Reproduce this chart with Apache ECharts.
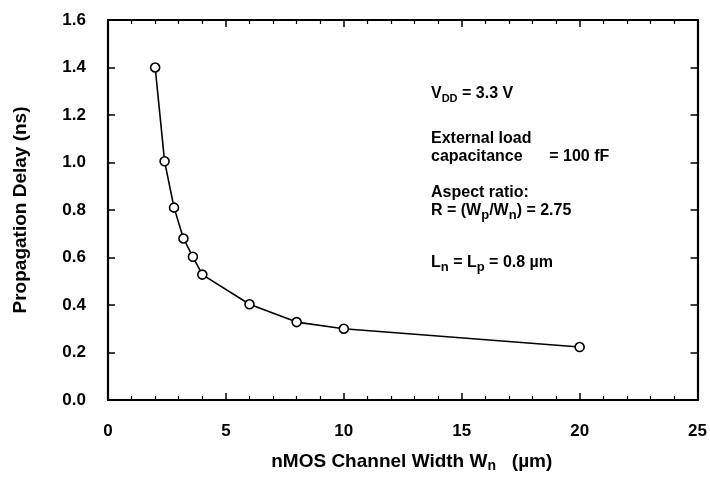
<!DOCTYPE html>
<html><head><meta charset="utf-8">
<script src="https://cdn.jsdelivr.net/npm/echarts@6/dist/echarts.min.js"></script>
<style>html,body{margin:0;padding:0;background:#fff}#c{width:710px;height:482px}</style>
</head><body><div id="c"></div>
<script>
const widths = [2.0, 2.4, 2.8, 3.2, 3.6, 4.0, 6.0, 8.0, 10.0, 20.0];
const delays = [1.40, 1.005, 0.81, 0.68, 0.603, 0.528, 0.403, 0.328, 0.30, 0.223];
const xTicks = [0, 5, 10, 15, 20, 25];
const yTicks = [0.0, 0.2, 0.4, 0.6, 0.8, 1.0, 1.2, 1.4, 1.6];

const FONT = '"Liberation Sans", Arial, sans-serif';
const chart = echarts.init(document.getElementById('c'), null, {renderer: 'canvas'});
const axisLine = {show: true, onZero: false, lineStyle: {color: '#000', width: 2.2}};
const tick = {show: true, inside: true, length: 7, lineStyle: {color: '#000', width: 1.5}};
const minor = {show: true, splitNumber: 5, length: 4, lineStyle: {color: '#000', width: 1.2}};
const txt = {fontFamily: FONT, fontWeight: 'bold', fontSize: 17, color: '#000'};
const A = {fontFamily: FONT, fontWeight: 'bold', fontSize: 16, fill: '#000', lineHeight: 18};
const S = {fontFamily: FONT, fontWeight: 'bold', fontSize: 13, fill: '#000', padding: [9, 0, 0, 0], lineHeight: 18};

chart.setOption({
  animation: false,
  backgroundColor: '#fff',
  grid: {left: 108, right: 10, top: 20, bottom: 82},
  xAxis: [{
    type: 'value', min: xTicks[0], max: xTicks[xTicks.length - 1], interval: 5,
    axisLine, axisTick: tick, minorTick: minor, splitLine: {show: false},
    axisLabel: Object.assign({margin: 23}, txt),
    name: '{a|nMOS Channel Width W}{s|n}{a|   (µm)}',
    nameLocation: 'middle', nameGap: 51,
    nameTextStyle: {padding: [0, 0, 0, 18], rich: {
      a: {fontFamily: FONT, fontWeight: 'bold', fontSize: 19, color: '#000'},
      s: {fontFamily: FONT, fontWeight: 'bold', fontSize: 14, color: '#000', verticalAlign: 'bottom', padding: [8, 0, 0, 0]}
    }}
  }, {
    type: 'value', position: 'top', min: 0, max: 25, interval: 5,
    axisLine, axisTick: tick, minorTick: minor, splitLine: {show: false},
    axisLabel: {show: false}
  }],
  yAxis: [{
    type: 'value', min: yTicks[0], max: yTicks[yTicks.length - 1], interval: 0.2,
    axisLine, axisTick: tick, splitLine: {show: false},
    axisLabel: Object.assign({margin: 22, formatter: v => v.toFixed(1)}, txt),
    name: 'Propagation Delay (ns)', nameLocation: 'middle', nameGap: 78, nameRotate: 90,
    nameTextStyle: {fontFamily: FONT, fontWeight: 'bold', fontSize: 19, color: '#000'}
  }, {
    type: 'value', position: 'right', min: 0, max: 1.6, interval: 0.2,
    axisLine, axisTick: tick, splitLine: {show: false}, axisLabel: {show: false}
  }],
  series: [{
    type: 'line',
    data: widths.map((w, i) => [w, delays[i]]),
    symbol: 'circle', symbolSize: 9, showSymbol: true,
    lineStyle: {color: '#000', width: 1.6},
    itemStyle: {color: '#fff', borderColor: '#000', borderWidth: 1.6},
    z: 3
  }],
  graphic: [
    {type: 'text', left: 431, top: 84, style: {
      text: '{a|V}{s|DD}{a| = 3.3 V}', rich: {a: A, s: Object.assign({}, S, {fontSize: 11})}}},
    {type: 'text', left: 431, top: 130, style: {
      text: 'External load\ncapacitance      = 100 fF', lineHeight: 18,
      font: 'bold 16px ' + FONT, fill: '#000'}},
    {type: 'text', left: 431, top: 185, style: {
      text: '{a|Aspect ratio:}\n{a|R = (W}{s|p}{a|/W}{s|n}{a|) = 2.75}', rich: {a: A, s: S}}},
    {type: 'text', left: 431, top: 252, style: {
      text: '{a|L}{s|n}{a| = L}{s|p}{a| = 0.8 µm}', rich: {a: A, s: S}}}
  ]
});
</script></body></html>
